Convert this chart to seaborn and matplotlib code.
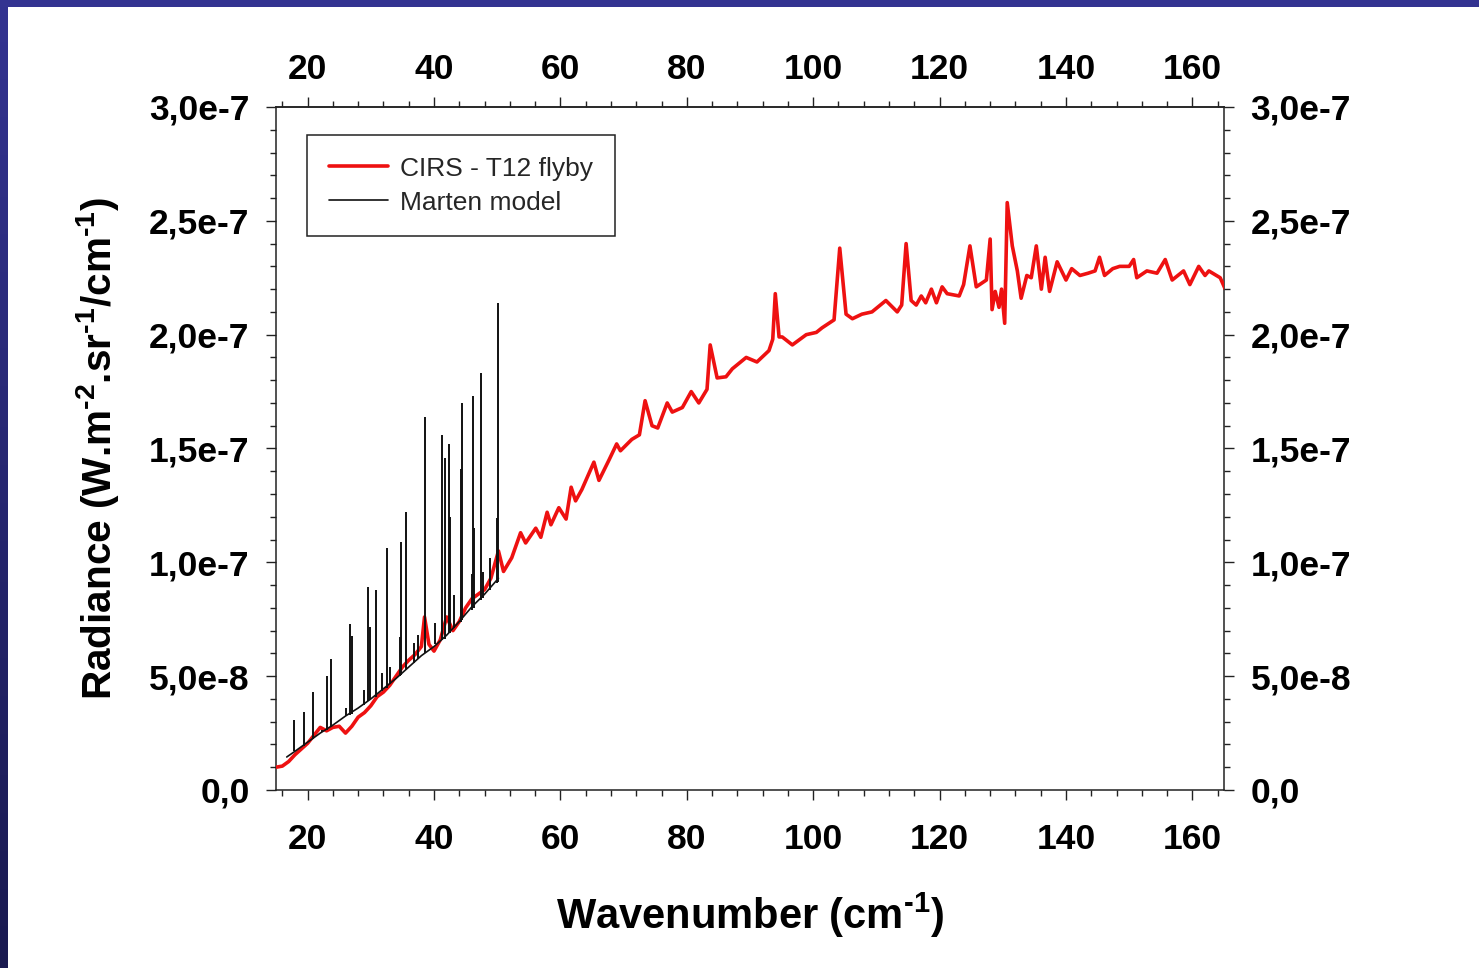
import numpy as np
import pandas as pd
import matplotlib
matplotlib.use("Agg")
import matplotlib.pyplot as plt
from matplotlib.ticker import MultipleLocator, FuncFormatter
from matplotlib.patches import Rectangle
import seaborn as sns

# ---------------- data (radiance values in units of 1e-8 W.m-2.sr-1/cm-1) ----------------
cirs_wavenumber = [
    15.0, 16.0, 17.0, 18.0, 19.0, 20.0, 21.0, 22.0, 23.0, 24.0, 25.0, 26.0, 27.0, 28.0,
    29.0, 30.0, 31.0, 32.0, 33.0, 34.0, 35.0, 36.0, 37.0, 38.0, 38.5, 39.2, 40.0, 41.0,
    42.0, 43.0, 44.0, 45.0, 46.0, 47.0, 48.0, 49.0, 50.2, 51.0, 52.3, 53.7, 54.5, 56.1,
    56.9, 57.9, 58.5, 59.75, 60.9, 61.7, 62.4, 63.4, 65.3, 66.1, 67.7, 68.9, 69.5, 71.3,
    72.5, 73.4, 74.5, 75.4, 76.9, 77.7, 79.3, 80.7, 81.9, 83.2, 83.7, 84.8, 86.2, 87.2,
    89.4, 91.1, 93.0, 93.6, 94.0, 94.6, 95.1, 96.7, 98.9, 100.5, 101.4, 103.3, 104.2,
    105.2, 106.2, 107.7, 109.3, 111.5, 113.3, 114.0, 114.7, 115.5, 116.3, 117.1, 117.8,
    118.7, 119.5, 120.4, 121.2, 123.1, 123.8, 124.8, 125.8, 127.4, 128.0, 128.3, 128.8,
    129.4, 129.8, 130.3, 130.7, 131.5, 132.3, 132.9, 133.8, 134.5, 135.3, 136.1, 136.7,
    137.4, 138.6, 140.0, 140.9, 142.2, 143.5, 144.6, 145.3, 146.1, 147.4, 148.5, 150.0,
    150.7, 151.2, 152.8, 154.4, 155.7, 156.8, 158.6, 159.6, 161.0, 162.0, 162.6, 164.4,
    165.2,
]
cirs_radiance = [
    1.0, 1.05, 1.25, 1.55, 1.8, 2.05, 2.4, 2.75, 2.6, 2.75, 2.8, 2.5, 2.8, 3.2,
    3.4, 3.7, 4.1, 4.3, 4.6, 5.0, 5.4, 5.7, 5.95, 6.3, 7.6, 6.4, 6.1, 6.6,
    7.6, 7.0, 7.4, 8.0, 8.4, 8.6, 8.8, 9.3, 10.5, 9.6, 10.2, 11.3, 10.85, 11.5,
    11.1, 12.2, 11.65, 12.4, 11.9, 13.3, 12.7, 13.2, 14.4, 13.6, 14.5, 15.2, 14.9, 15.4,
    15.6, 17.1, 16.0, 15.9, 17.0, 16.6, 16.8, 17.5, 17.0, 17.6, 19.55, 18.1, 18.15, 18.5,
    19.0, 18.8, 19.3, 19.8, 21.8, 19.9, 19.9, 19.55, 20.0, 20.1, 20.3, 20.65, 23.8,
    20.9, 20.7, 20.9, 21.0, 21.5, 21.0, 21.3, 24.0, 21.5, 21.3, 21.7, 21.4,
    22.0, 21.4, 22.1, 21.8, 21.7, 22.2, 23.9, 22.1, 22.4, 24.2, 21.1, 21.9,
    21.2, 22.0, 20.5, 25.8, 23.9, 22.8, 21.6, 22.6, 22.5, 23.9, 22.0, 23.4,
    21.9, 23.2, 22.4, 22.9, 22.6, 22.7, 22.8, 23.4, 22.6, 22.9, 23.0, 23.0,
    23.3, 22.5, 22.8, 22.7, 23.3, 22.4, 22.8, 22.2, 23.0, 22.6, 22.8, 22.5,
    22.0,
]

model_wavenumber = [16.7, 18.0, 20.0, 22.0, 24.0, 26.0, 28.0, 30.0, 32.0, 34.0,
                    36.0, 38.0, 40.0, 42.0, 44.0, 46.0, 48.0, 50.2]
model_radiance = [1.45, 1.7, 2.1, 2.5, 2.85, 3.25, 3.6, 4.0, 4.45, 4.9,
                  5.4, 5.9, 6.3, 6.8, 7.4, 8.05, 8.6, 9.3]

line_wavenumber = [17.9, 19.4, 20.8, 22.3, 23.1, 23.75, 26.0, 26.65, 27.0, 28.9,
                   29.6, 29.8, 30.8, 31.7, 32.6, 33.1, 34.6, 34.7, 35.6, 36.9,
                   37.4, 38.5, 40.2, 41.3, 41.7, 42.4, 42.55, 43.2, 44.2, 44.4,
                   44.3, 46.0, 46.2, 46.3, 47.45, 47.8, 48.8, 49.9, 50.05]
line_base = [1.7, 1.95, 2.25, 2.55, 2.65, 2.75, 3.25, 3.3, 3.35, 3.75,
             3.9, 3.95, 4.1, 4.35, 4.5, 4.65, 5.0, 5.05, 5.25, 5.6,
             5.75, 6.0, 6.4, 6.6, 6.65, 6.9, 6.9, 7.1, 7.4, 7.45,
             7.42, 7.9, 8.0, 8.0, 8.35, 8.45, 8.8, 9.1, 9.15]
line_top = [3.08, 3.44, 4.32, 2.64, 5.01, 5.74, 3.6, 7.29, 6.77, 4.39,
            8.93, 7.18, 8.79, 5.14, 10.63, 5.42, 6.74, 10.91, 12.23, 6.45,
            6.81, 16.4, 7.32, 15.6, 14.6, 15.2, 12.0, 8.57, 8.49, 17.0,
            14.1, 9.5, 17.3, 11.5, 18.3, 9.59, 10.2, 11.95, 21.4]

yticks = [0.0, 0.5e-7, 1.0e-7, 1.5e-7, 2.0e-7, 2.5e-7, 3.0e-7]
xticks = [20, 40, 60, 80, 100, 120, 140, 160]

scale = 1e-8
cirs = pd.DataFrame({"wavenumber": cirs_wavenumber,
                     "radiance": np.array(cirs_radiance) * scale})
model = pd.DataFrame({"wavenumber": model_wavenumber,
                      "radiance": np.array(model_radiance) * scale})

# ---------------- style ----------------
sns.set_theme(style="ticks")
plt.rcParams["font.family"] = ["Liberation Sans", "DejaVu Sans"]
plt.rcParams["mathtext.fontset"] = "custom"
plt.rcParams["mathtext.rm"] = "Liberation Sans:bold"
plt.rcParams["mathtext.bf"] = "Liberation Sans:bold"
plt.rcParams["mathtext.it"] = "Liberation Sans:italic"

W, H = 1479, 968
fig = plt.figure(figsize=(W / 100, H / 100), dpi=100, facecolor="white")

# decorative slide border (top bar and left gradient bar)
fig.patches.append(Rectangle((0, 1 - 7 / H), 1, 7 / H, transform=fig.transFigure,
                             facecolor="#333391", edgecolor="none", zorder=0))
strip = fig.add_axes([0, 0, 8 / W, 1])
grad = np.linspace(0, 1, 256)[:, None]
top_c = np.array([51, 51, 145]) / 255
bot_c = np.array([26, 26, 80]) / 255
img = (top_c[None, None, :] * (1 - grad[:, :, None]) + bot_c[None, None, :] * grad[:, :, None])
strip.imshow(img, aspect="auto", extent=(0, 1, 0, 1))
strip.set_axis_off()

ax = fig.add_axes([276 / W, 1 - 790 / H, (1224 - 276) / W, (790 - 107) / H])
ax.set_facecolor("white")

sns.lineplot(data=cirs, x="wavenumber", y="radiance", ax=ax, color="#ee1111",
             linewidth=2.6, label="CIRS - T12 flyby", estimator=None, sort=False, zorder=3)
sns.lineplot(data=model, x="wavenumber", y="radiance", ax=ax, color="#111111",
             linewidth=1.2, label="Marten model", estimator=None, sort=False, zorder=4)
ax.vlines(line_wavenumber, np.array(line_base) * scale, np.array(line_top) * scale,
          colors="#111111", linewidth=1.4, zorder=4)

ax.set_xlim(15, 165)
ax.set_ylim(0, 3.0e-7)
ax.set_xticks(xticks)
ax.set_yticks(yticks)
ax.xaxis.set_minor_locator(MultipleLocator(4))
ax.yaxis.set_minor_locator(MultipleLocator(1e-8))


def comma_fmt(v, pos=None):
    if abs(v) < 1e-20:
        return "0,0"
    m, e = f"{v:.1e}".split("e")
    return f"{m.replace('.', ',')}e{int(e)}"


int_fmt = FuncFormatter(lambda v, p: f"{int(round(v))}")
ax.yaxis.set_major_formatter(FuncFormatter(comma_fmt))
ax.xaxis.set_major_formatter(int_fmt)

for s in ax.spines.values():
    s.set_visible(True)
    s.set_linewidth(1.1)
    s.set_color("#222222")

ax.tick_params(axis="both", which="major", direction="out", length=7, width=1.0,
               color="#222222", labelsize=25.5, top=False, right=True,
               labeltop=False, labelright=True, labelcolor="black")
ax.tick_params(axis="both", which="minor", direction="out", length=4.5, width=1.0,
               color="#222222", top=False, right=True)
ax.tick_params(axis="x", which="major", pad=17)
ax.tick_params(axis="y", which="major", pad=12)

# top axis with its own label spacing
sec = ax.secondary_xaxis("top")
sec.set_xticks(xticks)
sec.xaxis.set_minor_locator(MultipleLocator(4))
sec.xaxis.set_major_formatter(int_fmt)
sec.spines["top"].set_linewidth(1.1)
sec.spines["top"].set_color("#222222")
sec.tick_params(axis="x", which="major", direction="out", length=7, width=1.0,
                color="#222222", labelsize=25.5, pad=8, labelcolor="black")
sec.tick_params(axis="x", which="minor", direction="out", length=4.5, width=1.0,
                color="#222222")

for t in ax.xaxis.get_major_ticks() + ax.yaxis.get_major_ticks() + sec.xaxis.get_major_ticks():
    t.label1.set_fontweight("bold")
    t.label2.set_fontweight("bold")

ax.set_xlabel(r"Wavenumber (cm$^{\text{-}1}$)", fontsize=30, fontweight="bold",
              labelpad=25, color="black")
ax.set_ylabel(r"Radiance (W.m$^{\text{-}2}$.sr$^{\text{-}1}$/cm$^{\text{-}1}$)",
              fontsize=29.2, fontweight="bold", labelpad=20, color="black")

leg = ax.legend(loc="upper left", bbox_to_anchor=((307 - 276) / 948, (790 - 135) / 683),
                borderaxespad=0, fontsize=19, frameon=True, fancybox=False,
                edgecolor="#222222", framealpha=1, handlelength=2.25,
                handletextpad=0.45, borderpad=0.82, labelspacing=0.38)
leg.get_frame().set_linewidth(1.1)

fig.savefig("out.png", dpi=100, facecolor="white")
